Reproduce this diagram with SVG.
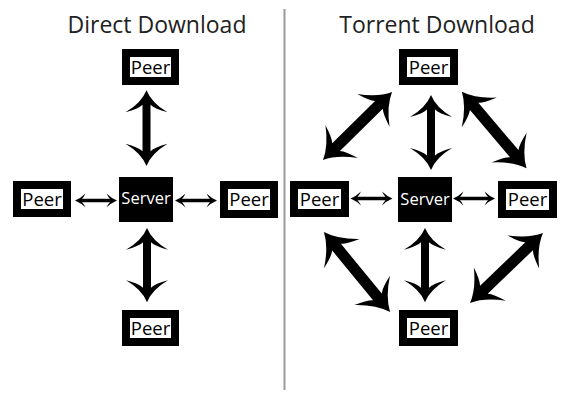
<svg xmlns="http://www.w3.org/2000/svg" xmlns:xlink="http://www.w3.org/1999/xlink" width="565" height="394" viewBox="0 0 565 394">
<style>
.title{font-family:"Open Sans","Liberation Sans",sans-serif;font-size:23px;fill:#222;text-anchor:middle}
.peer rect{fill:#fff;stroke:#000;stroke-width:8}
.peer text{font-family:"Open Sans","Liberation Sans",sans-serif;font-size:18.5px;fill:#000;text-anchor:middle}
.server rect{fill:#000}
.server text{font-family:"Open Sans","Liberation Sans",sans-serif;font-size:16.5px;fill:#fff;text-anchor:middle}
.arr{fill:#000}
</style>
<defs>
<path id="big" d="M-50,0 Q-36,-6 -23,-23 Q-27,-10 -31,-5.5 L31,-5.5 Q27,-10 23,-23 Q36,-6 50,0 Q36,6 23,23 Q27,10 31,5.5 L-31,5.5 Q-27,10 -23,23 Q-36,6 -50,0 Z"/>
<path id="mid" d="M-37.5,0 Q-25,-5 -15.5,-21 Q-19,-8 -23,-4 L23,-4 Q19,-8 15.5,-21 Q25,-5 37.5,0 Q25,5 15.5,21 Q19,8 23,4 L-23,4 Q-19,8 -15.5,21 Q-25,5 -37.5,0 Z"/>
<path id="small" d="M-21,0 Q-15,-2.5 -10.5,-7 Q-12.5,-3 -14,-1.7 L14,-1.7 Q12.5,-3 10.5,-7 Q15,-2.5 21,0 Q15,2.5 10.5,7 Q12.5,3 14,1.7 L-14,1.7 Q-12.5,3 -10.5,7 Q-15,2.5 -21,0 Z"/>
</defs>
<rect width="565" height="394" fill="#fff"/>
<line x1="284.5" y1="9" x2="284.5" y2="390" stroke="#9a9a9a" stroke-width="2"/>
<text class="title" x="157" y="33">Direct Download</text>
<text class="title" x="437" y="33">Torrent Download</text>

<g id="connectors" class="arr">
<use xlink:href="#mid" transform="translate(146.5,128) rotate(90) scale(1.01,1)"/>
<use xlink:href="#mid" transform="translate(147,265) rotate(90) scale(0.99,1)"/>
<use xlink:href="#small" transform="translate(96,200.5)"/>
<use xlink:href="#small" transform="translate(196,200.5)"/>
<use xlink:href="#mid" transform="translate(431,132.5) rotate(90)"/>
<use xlink:href="#mid" transform="translate(425,265) rotate(90) scale(0.99,1)"/>
<use xlink:href="#small" transform="translate(371.5,198.5)"/>
<use xlink:href="#small" transform="translate(474,198.5)"/>
<use xlink:href="#big" transform="translate(357.5,126) rotate(-44.6) scale(0.97,1)"/>
<use xlink:href="#big" transform="translate(494.2,130) rotate(49.7)"/>
<use xlink:href="#big" transform="translate(357,272) rotate(50.5) scale(1.04,1)"/>
<use xlink:href="#big" transform="translate(506.5,268) rotate(-43.8) scale(1.01,1)"/>
</g>

<g id="d-peer-top" class="peer"><rect x="126" y="53" width="49" height="28"/><text x="150.5" y="73.5">Peer</text></g>
<g id="d-peer-left" class="peer"><rect x="17" y="185" width="50" height="28"/><text x="42" y="205.5">Peer</text></g>
<g id="d-peer-right" class="peer"><rect x="224" y="185" width="50" height="29"/><text x="249" y="206">Peer</text></g>
<g id="d-peer-bottom" class="peer"><rect x="126" y="314" width="49" height="28"/><text x="150.5" y="334.5">Peer</text></g>
<g id="d-server" class="server"><rect x="119" y="177" width="54" height="45"/><text x="146" y="204">Server</text></g>

<g id="t-peer-top" class="peer"><rect x="403" y="53" width="51" height="28"/><text x="428.5" y="73.5">Peer</text></g>
<g id="t-peer-left" class="peer"><rect x="294" y="185" width="51" height="28"/><text x="319.5" y="205.5">Peer</text></g>
<g id="t-peer-right" class="peer"><rect x="502" y="185" width="51" height="29"/><text x="527.5" y="206">Peer</text></g>
<g id="t-peer-bottom" class="peer"><rect x="403" y="314" width="51" height="28"/><text x="428.5" y="334.5">Peer</text></g>
<g id="t-server" class="server"><rect x="398" y="177" width="54" height="45"/><text x="425" y="204.5">Server</text></g>
</svg>
